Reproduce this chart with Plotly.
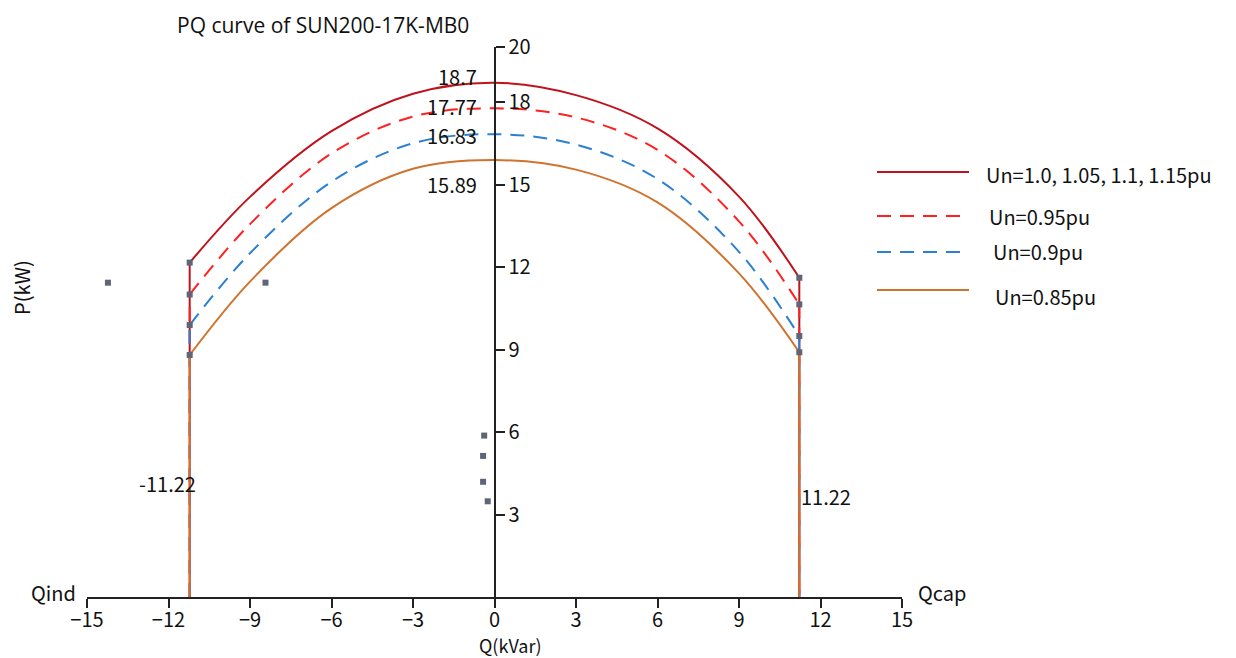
import plotly.graph_objects as go

# ---------------- data ----------------
q_points = [-11.22, -9, -6, -3, 0, 3, 6, 9, 11.22]

p_un_100 = [12.16, 14.55, 16.94, 18.30, 18.70, 18.25, 17.04, 14.56, 11.61]
p_un_095 = [11.00, 13.56, 16.13, 17.47, 17.77, 17.44, 16.26, 13.66, 10.64]
p_un_090 = [9.89, 12.50, 15.10, 16.50, 16.83, 16.45, 15.20, 12.55, 9.49]
p_un_085 = [8.80, 11.47, 14.14, 15.57, 15.89, 15.54, 14.35, 11.77, 8.90]

q_limit = 11.22

series_names = ["Un=1.0, 1.05, 1.1, 1.15pu", "Un=0.95pu", "Un=0.9pu", "Un=0.85pu"]
series_values = [p_un_100, p_un_095, p_un_090, p_un_085]
series_colors = ["#c0121c", "#ff2020", "#2a80d2", "#d0732f"]
series_dash = ["solid", "14px,9px", "14px,9px", "solid"]

peak_labels = ["18.7", "17.77", "16.83", "15.89"]

stray_q = [-14.23, -8.43, -0.38, -0.42, -0.42, -0.25]
stray_p = [11.43, 11.43, 5.87, 5.13, 4.19, 3.48]

x_ticks = [-15, -12, -9, -6, -3, 0, 3, 6, 9, 12, 15]
y_ticks = [3, 6, 9, 12, 15, 18, 20]

# ---------------- layout geometry ----------------
# the html page has an 8px body margin, so the figure is drawn 8px smaller
OFF = 8
PAGE_W, PAGE_H = 1236, 658
W, H = PAGE_W - OFF, PAGE_H - OFF
PLOT_L, PLOT_R, PLOT_T, PLOT_B = 87, 902, 47, 597   # page pixels
ML, MR = PLOT_L - OFF, W - (PLOT_R - OFF)
MT, MB = PLOT_T - OFF, H - (PLOT_B - OFF)
PW, PH = PLOT_R - PLOT_L, PLOT_B - PLOT_T


def px(x):
    return (x - PLOT_L) / PW


def py(y):
    return (PLOT_B - y) / PH


LABEL_FONT = "Noto Sans CJK SC"
FS = 20

fig = go.Figure()

# arcs and vertical limits
for vals, col, dash in zip(series_values, series_colors, series_dash):
    fig.add_trace(go.Scatter(
        x=q_points, y=vals, mode="lines",
        line=dict(color=col, width=2, dash=dash, shape="spline", smoothing=1.0),
        showlegend=False, hoverinfo="skip"))
    fig.add_trace(go.Scatter(
        x=[-q_limit, -q_limit, None, q_limit, q_limit],
        y=[0, vals[0], None, vals[-1], 0], mode="lines",
        line=dict(color=col, width=2, dash=dash),
        showlegend=False, hoverinfo="skip"))

# grey point markers at curve ends
end_q = [-q_limit] * 4 + [q_limit] * 4
end_p = [v[0] for v in series_values] + [v[-1] for v in series_values]
fig.add_trace(go.Scatter(
    x=end_q + stray_q, y=end_p + stray_p, mode="markers",
    marker=dict(symbol="square", size=6, color="#5d6577"),
    showlegend=False, hoverinfo="skip"))

fig.update_layout(
    width=W, height=H,
    margin=dict(l=ML, r=MR, t=MT, b=MB, autoexpand=False),
    paper_bgcolor="white", plot_bgcolor="white",
    font=dict(family=LABEL_FONT, size=FS, color="#111111"),
    xaxis=dict(
        range=[-15, 15], tickvals=x_ticks, showgrid=False, zeroline=False,
        showline=True, linecolor="#222222", linewidth=2, automargin=False,
        ticks="outside", ticklen=9, tickwidth=2, tickcolor="#222222",
        ticklabelstandoff=-5,
        tickfont=dict(family=LABEL_FONT, size=FS, color="#111111")),
    yaxis=dict(
        range=[0, 20], tickvals=y_ticks, showgrid=False, zeroline=False,
        anchor="free", position=0.5, side="right", automargin=False,
        showline=True, linecolor="#222222", linewidth=2,
        ticks="outside", ticklen=9, tickwidth=2, tickcolor="#222222",
        tickfont=dict(family=LABEL_FONT, size=FS, color="#111111")),
)

ann = []
# title
ann.append(dict(text="PQ curve of SUN200-17K-MB0", x=px(175), y=py(25),
                xanchor="left", yanchor="middle", showarrow=False,
                font=dict(family="Open Sans", size=21, color="#111111")))
# axis captions
ann.append(dict(text="P(kW)", x=px(21), y=py(288), textangle=-90,
                xanchor="center", yanchor="middle", showarrow=False))
ann.append(dict(text="Qind", x=px(78), y=py(592), xanchor="right",
                yanchor="middle", showarrow=False))
ann.append(dict(text="Qcap", x=px(916), y=py(592), xanchor="left",
                yanchor="middle", showarrow=False))
ann.append(dict(text="Q(kVar)", x=px(510), y=py(645), xanchor="center",
                yanchor="middle", showarrow=False,
                font=dict(family=LABEL_FONT, size=18, color="#111111")))
# limit labels
ann.append(dict(text="-" + f"{q_limit:.2f}", x=px(198), y=py(483),
                xanchor="right", yanchor="middle", showarrow=False))
ann.append(dict(text=f"{q_limit:.2f}", x=px(799), y=py(497),
                xanchor="left", yanchor="middle", showarrow=False))
# peak labels
for lab, ypix in zip(peak_labels, [76, 106, 135, 184]):
    ann.append(dict(text=lab, x=px(479), y=py(ypix), xanchor="right",
                    yanchor="middle", showarrow=False))

# manual legend
leg_line_y = [172, 216, 252, 290]
leg_text_xy = [(984, 174), (987, 216), (991, 252), (993, 296)]
shapes = []
for name, col, dash, ly, (tx, ty) in zip(series_names, series_colors,
                                         series_dash, leg_line_y, leg_text_xy):
    shapes.append(dict(type="line", xref="paper", yref="paper",
                       x0=px(877), x1=px(969), y0=py(ly), y1=py(ly),
                       line=dict(color=col, width=2, dash=dash)))
    ann.append(dict(text=name, x=px(tx), y=py(ty), xanchor="left",
                    yanchor="middle", showarrow=False))

for a in ann:
    a.setdefault("xref", "paper")
    a.setdefault("yref", "paper")
fig.update_layout(annotations=ann, shapes=shapes)

fig.write_html("out.html")
